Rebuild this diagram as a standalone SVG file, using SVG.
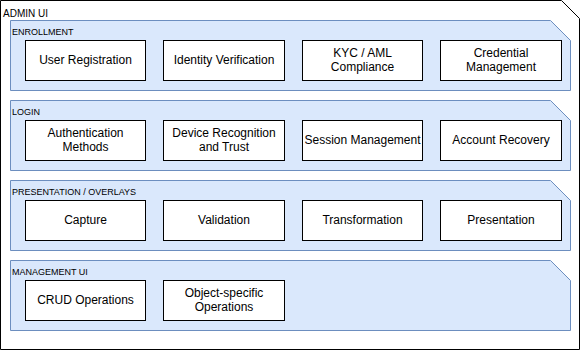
<svg xmlns="http://www.w3.org/2000/svg" width="581" height="351" viewBox="0 0 581 351">
<style>
.frame{fill:#ffffff;stroke:#000000;stroke-width:1}
.band{fill:#dae8fc;stroke:#6c8ebf;stroke-width:1}
.box{fill:#ffffff;stroke:#000000;stroke-width:1}
.t{font-family:"Liberation Sans",Arial,sans-serif;font-size:12px;fill:#000000;text-anchor:middle}
.lbl{font-family:"Liberation Sans",Arial,sans-serif;font-size:9px;fill:#000000}
.title{font-family:"Liberation Sans",Arial,sans-serif;font-size:10px;fill:#000000}
</style>
<g id="admin-ui">
<path class="frame" d="M0.5,0.5 H561.5 L579.5,18.5 V349.5 H0.5 Z"/>
<text class="title" x="3" y="16.5">ADMIN UI</text>
</g>
<g id="enrollment">
<path class="band" d="M10.5,20.5 H550.5 L570.5,40.5 V90.5 H10.5 Z"/>
<text class="lbl" x="12" y="35">ENROLLMENT</text>
</g>
<g id="user-registration"><rect class="box" x="25.5" y="40.5" width="120" height="40"/><text class="t" x="85.5" y="64">User Registration</text></g>
<g id="identity-verification"><rect class="box" x="163.5" y="40.5" width="121" height="40"/><text class="t" x="224" y="64">Identity Verification</text></g>
<g id="kyc-aml"><rect class="box" x="302.5" y="40.5" width="120" height="40"/><text class="t" x="362.5" y="57">KYC / AML</text><text class="t" x="362.5" y="71">Compliance</text></g>
<g id="credential-management"><rect class="box" x="440.5" y="40.5" width="121" height="40"/><text class="t" x="501" y="57">Credential</text><text class="t" x="501" y="71">Management</text></g>
<g id="login">
<path class="band" d="M10.5,100.5 H550.5 L570.5,120.5 V170.5 H10.5 Z"/>
<text class="lbl" x="12" y="115">LOGIN</text>
</g>
<g id="authentication-methods"><rect class="box" x="25.5" y="120.5" width="120" height="40"/><text class="t" x="85.5" y="137">Authentication</text><text class="t" x="85.5" y="151">Methods</text></g>
<g id="device-recognition"><rect class="box" x="163.5" y="120.5" width="121" height="40"/><text class="t" x="224" y="137">Device Recognition</text><text class="t" x="224" y="151">and Trust</text></g>
<g id="session-management"><rect class="box" x="302.5" y="120.5" width="120" height="40"/><text class="t" x="362.5" y="144">Session Management</text></g>
<g id="account-recovery"><rect class="box" x="440.5" y="120.5" width="121" height="40"/><text class="t" x="501" y="144">Account Recovery</text></g>
<g id="presentation-overlays">
<path class="band" d="M10.5,180.5 H550.5 L570.5,200.5 V250.5 H10.5 Z"/>
<text class="lbl" x="12" y="195">PRESENTATION / OVERLAYS</text>
</g>
<g id="capture"><rect class="box" x="25.5" y="200.5" width="120" height="40"/><text class="t" x="85.5" y="224">Capture</text></g>
<g id="validation"><rect class="box" x="163.5" y="200.5" width="121" height="40"/><text class="t" x="224" y="224">Validation</text></g>
<g id="transformation"><rect class="box" x="302.5" y="200.5" width="120" height="40"/><text class="t" x="362.5" y="224">Transformation</text></g>
<g id="presentation"><rect class="box" x="440.5" y="200.5" width="121" height="40"/><text class="t" x="501" y="224">Presentation</text></g>
<g id="management-ui">
<path class="band" d="M10.5,260.5 H550.5 L570.5,280.5 V330.5 H10.5 Z"/>
<text class="lbl" x="12" y="275">MANAGEMENT UI</text>
</g>
<g id="crud-operations"><rect class="box" x="25.5" y="280.5" width="120" height="40"/><text class="t" x="85.5" y="304">CRUD Operations</text></g>
<g id="object-specific-operations"><rect class="box" x="163.5" y="280.5" width="121" height="40"/><text class="t" x="224" y="297">Object-specific</text><text class="t" x="224" y="311">Operations</text></g>
<g id="connectors"></g>
</svg>
